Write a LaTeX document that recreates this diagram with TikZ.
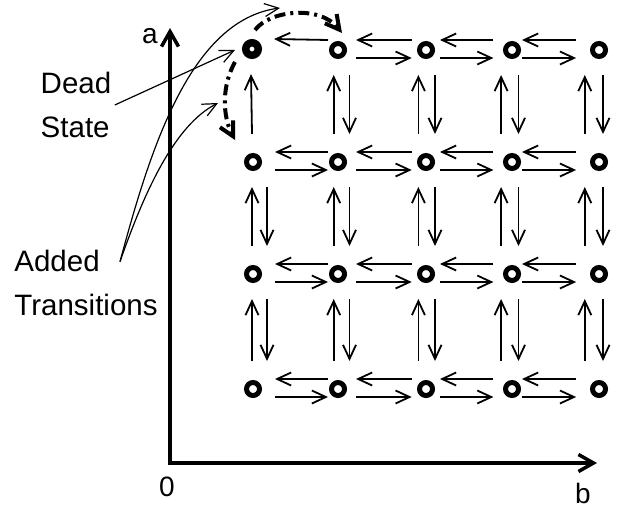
\documentclass[tikz,border=0pt]{standalone}
\usepackage{fontspec}
\setmainfont{Liberation Sans}
\usetikzlibrary{arrows.meta}

\begin{document}
\begin{tikzpicture}[x=1pt,y=-1pt,
    state/.style={draw,circle,line width=5pt,minimum size=13pt,inner sep=0pt},
    dead/.style={state,line width=7.5pt,minimum size=12.5pt},
    tr/.style={line width=1.8pt,-{Straight Barb[length=14pt,width=13pt]}},
    added/.style={line width=4pt,dash pattern=on 11pt off 5pt on 3pt off 5pt,
                  -{Straight Barb[length=14pt,width=15pt]}},
    note/.style={line width=1.2pt,-{Straight Barb[length=14pt,width=13pt]}},
    axis/.style={line width=3.5pt,line join=miter,
                 {Straight Barb[length=15pt,width=17pt]}-{Straight Barb[length=15pt,width=17pt]}},
    lbl/.style={font=\fontsize{29.5}{44}\selectfont,align=left},
    axlbl/.style={font=\fontsize{28}{34}\selectfont}]
  \useasboundingbox (0,0) rectangle (620,508);

  % axes
  \coordinate (o)    at (170,463);
  \coordinate (atop) at (170,28);
  \coordinate (bend) at (597,463);
  \draw[axis] (atop) -- (o) -- (bend);
  \node[axlbl] (la) at (150,36)  {a};
  \node[axlbl] (lo) at (167,487) {0};
  \node[axlbl] (lb) at (583,493) {b};

  % states
  \foreach \x [count=\i] in {253,338,426,512,599} {
    \foreach \y [count=\j] in {50,162,274,389} {
      \ifnum\j\i=11 \else \node[state] (n-\j-\i) at (\x,\y) {};\fi
    }
  }
  \node[dead] (n-1-1) at (252,49) {};

  % transitions in a row
  \foreach \j in {1,...,4} {
    \foreach \i [evaluate=\i as \k using int(\i+1),
                 evaluate=\i as \a using 22-4*(\i-1),
                 evaluate=\i as \b using -10-4.3*(\i-1)] in {1,...,4} {
      \draw[tr] ([shift={(\b,-10)}]n-\j-\k.center) -- ([shift={(\a,-10)}]n-\j-\i.center);
      \ifnum\j\i=11 \else
        \draw[tr] ([shift={(\a,8)}]n-\j-\i.center) -- ([shift={(\b,8)}]n-\j-\k.center);
      \fi
    }
  }

  % transitions in a column
  \foreach \i [evaluate=\i as \u using -1-3.3*(\i-1),
               evaluate=\i as \d using 14-2.5*(\i-1)] in {1,...,5} {
    \foreach \j [evaluate=\j as \k using int(\j+1)] in {1,...,3} {
      \draw[tr] ([shift={(\u,-28)}]n-\k-\i.center) -- ([shift={(\u,25)}]n-\j-\i.center);
      \ifnum\j\i=11 \else
        \draw[tr] ([shift={(\d,25)}]n-\j-\i.center) -- ([shift={(\d,-28)}]n-\k-\i.center);
      \fi
    }
  }

  % added transitions
  \draw[added] ([shift={(3,-19)}]n-1-1.center)
    .. controls ([shift={(18,-39)}]n-1-1.center) and ([shift={(-18,-45)}]n-1-2.center)
    .. ([shift={(4,-17)}]n-1-2.center);
  \draw[added] ([shift={(-17,13)}]n-1-1.center)
    .. controls ([shift={(-30,36)}]n-1-1.center) and ([shift={(-31,-47)}]n-2-1.center)
    .. ([shift={(-18,-22)}]n-2-1.center);

  % labels
  \node[lbl] (ldead) at (76,105)  {Dead\\State};
  \node[lbl] (ladd)  at (86,283)  {Added\\Transitions};
  \coordinate (src) at ([shift={(34,15)}]ladd.north);
  \draw[note] (ldead.east) -- ([shift={(-17,1)}]n-1-1.center);
  \draw[note] (src) .. controls (150,150) and (190,20) .. ([shift={(28,-41)}]n-1-1.center);
  \draw[note] (src) .. controls (145,190) and (175,125) .. ([shift={(-34,54)}]n-1-1.center);
\end{tikzpicture}
\end{document}
